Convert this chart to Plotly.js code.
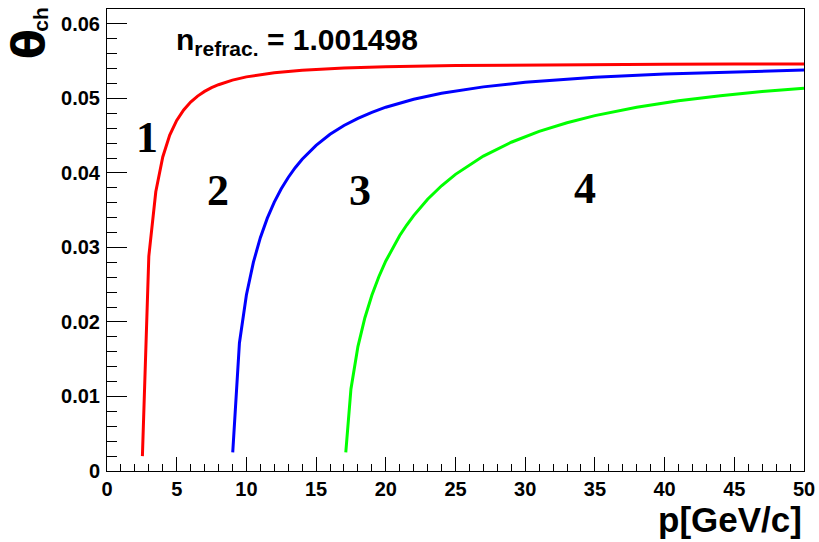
<!DOCTYPE html>
<html>
<head>
<meta charset="utf-8">
<script src="https://cdn.plot.ly/plotly-3.0.1.min.js"></script>
<style>html,body{margin:0;padding:0;background:#fff;}#chart{width:819px;height:542px;}</style>
</head>
<body>
<div id="chart"></div>
<script>
// Cherenkov angle vs momentum, n = 1.001498
const p1 = [2.54, 3, 3.5, 4, 4.5, 5, 5.5, 6, 6.5, 7, 7.5, 8, 9, 10, 12, 14, 17, 20, 25, 30, 35, 40, 45, 50];
const th1 = [0.0020, 0.02882, 0.03747, 0.04214, 0.04507, 0.04705, 0.04846, 0.04951, 0.05031, 0.05094, 0.05144, 0.05184, 0.05245, 0.05289, 0.05345, 0.05378, 0.05408, 0.05425, 0.05441, 0.05450, 0.05455, 0.05458, 0.05461, 0.05462];

const p2 = [9.02, 9.5, 10, 10.5, 11, 11.5, 12, 12.5, 13, 13.5, 14, 15, 16, 17, 18, 19, 20, 21, 22, 24, 27, 30, 35, 40, 45, 50];
const th2 = [0.0025, 0.01718, 0.02362, 0.02800, 0.03131, 0.03393, 0.03608, 0.03787, 0.03939, 0.04070, 0.04183, 0.04370, 0.04518, 0.04636, 0.04733, 0.04814, 0.04882, 0.04939, 0.04989, 0.05069, 0.05155, 0.05217, 0.05285, 0.05329, 0.05359, 0.05380];

const p3 = [17.13, 17.5, 18, 18.5, 19, 19.5, 20, 20.5, 21, 21.5, 22, 23, 24, 25, 27, 29, 31, 33, 35, 38, 41, 44, 47, 50];
const th3 = [0.0025, 0.01101, 0.01669, 0.02057, 0.02359, 0.02607, 0.02818, 0.03000, 0.03160, 0.03301, 0.03428, 0.03647, 0.03828, 0.03981, 0.04226, 0.04412, 0.04557, 0.04674, 0.04769, 0.04881, 0.04969, 0.05037, 0.05093, 0.05138];

const curveLabels = ["1", "2", "3", "4"];
const labelX = [2.87, 7.99, 18.14, 34.27];
const labelY = [0.0448, 0.0377, 0.0377, 0.0379];

const FONT = "Liberation Sans, Arial, Helvetica, sans-serif";

const traces = [
  {x: p1, y: th1, mode: "lines", line: {color: "#ff0000", width: 3}, hoverinfo: "skip"},
  {x: p2, y: th2, mode: "lines", line: {color: "#0000ff", width: 3}, hoverinfo: "skip"},
  {x: p3, y: th3, mode: "lines", line: {color: "#00ff00", width: 3}, hoverinfo: "skip"}
];

const annotations = curveLabels.map((t, i) => ({
  x: labelX[i], y: labelY[i], xref: "x", yref: "y",
  text: t, showarrow: false,
  xanchor: "center", yanchor: "middle",
  font: {family: "Liberation Serif, DejaVu Serif, serif", size: 44, color: "#000", weight: "bold"}
}));

annotations.push({
  xref: "paper", yref: "paper", x: 0.096, y: 0.930, xanchor: "left", yanchor: "middle",
  text: "n<sub>refrac.</sub> = 1.001498", showarrow: false,
  font: {family: FONT, size: 30, color: "#000", weight: "bold"}
});
annotations.push({
  xref: "paper", yref: "paper", x: 1, y: 0, xanchor: "right", yanchor: "top", yshift: -27,
  text: "p[GeV/c]", showarrow: false,
  font: {family: FONT, size: 35, color: "#000", weight: "bold"}
});
annotations.push({
  xref: "paper", yref: "paper", x: 0, y: 0.9237, xanchor: "center", yanchor: "middle", xshift: -79,
  textangle: -90,
  text: "θ", showarrow: false,
  font: {family: "DejaVu Sans, Liberation Sans, sans-serif", size: 44, color: "#000", weight: "bold"}
});
annotations.push({
  xref: "paper", yref: "paper", x: 0, y: 0.9768, xanchor: "center", yanchor: "middle", xshift: -66,
  textangle: -90,
  text: "ch", showarrow: false,
  font: {family: FONT, size: 21, color: "#000", weight: "bold"}
});

const layout = {
  width: 819, height: 542,
  margin: {l: 107, r: 15, t: 9, b: 71, pad: 0},
  paper_bgcolor: "#fff", plot_bgcolor: "#fff",
  showlegend: false,
  font: {family: FONT, color: "#000"},
  xaxis: {
    range: [0, 50], dtick: 5, tick0: 0,
    ticks: "inside", ticklen: 14, tickwidth: 1, tickcolor: "#000",
    minor: {ticks: "inside", ticklen: 7, dtick: 1, tickcolor: "#000", tickwidth: 1, showgrid: false},
    showline: true, linecolor: "#000", linewidth: 1, mirror: true,
    showgrid: false, zeroline: false,
    tickfont: {family: FONT, size: 20, color: "#000", weight: "bold"},
    ticklabelstandoff: 0
  },
  yaxis: {
    range: [0, 0.062], dtick: 0.01, tick0: 0,
    ticks: "inside", ticklen: 20, tickwidth: 1, tickcolor: "#000",
    minor: {ticks: "inside", ticklen: 10, dtick: 0.002, tickcolor: "#000", tickwidth: 1, showgrid: false},
    showline: true, linecolor: "#000", linewidth: 1, mirror: true,
    showgrid: false, zeroline: false,
    tickfont: {family: FONT, size: 20, color: "#000", weight: "bold"},
    ticklabelstandoff: 2
  },
  annotations: annotations
};

Plotly.newPlot("chart", traces, layout, {displayModeBar: false, staticPlot: true});
</script>
</body>
</html>
